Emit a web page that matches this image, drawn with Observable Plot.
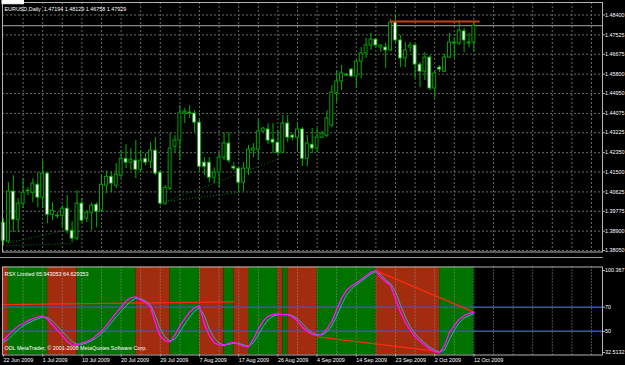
<!DOCTYPE html>
<html><head><meta charset="utf-8">
<script src="https://cdn.jsdelivr.net/npm/d3@7"></script>
<script src="https://cdn.jsdelivr.net/npm/@observablehq/plot@0.6"></script>
<style>
html,body{margin:0;padding:0;background:#000;}
#wrap{position:relative;width:625px;height:365px;background:#000;overflow:hidden;}
#wrap svg{position:absolute;left:0;}
.sep{position:absolute;left:0;width:603px;height:1px;background:#9a9a9a;}
</style></head><body><div id="wrap"></div>
<script>
// ---------- DATA ----------
const symbolTitle = "EURUSD,Daily\u00a0\u00a01.47194 1.48129 1.46758 1.47929";
const indicatorTitle = "RSX Limited 65.943053 64.629353";
const copyright = "ODL MetaTrader, \u00a9 2001-2008 MetaQuotes Software Corp.";

const open = [
1.3927,1.3844,1.4064,1.3940,1.4011,1.4066,1.4059,1.4094,1.4037,1.4143,
1.3962,1.3958,1.3958,1.3989,1.3892,1.3857,1.4011,1.3945,1.3971,1.4006,
1.3980,1.4090,1.4129,1.4090,1.4134,1.4208,1.4191,1.4200,1.4160,1.4208,
1.4195,1.4244,1.4147,1.4011,1.4077,1.4261,1.4288,1.4407,1.4411,1.4407,
1.4367,1.4191,1.4191,1.4125,1.4147,1.4213,1.4275,1.4173,1.4165,1.4103,
1.4165,1.4244,1.4248,1.4328,1.4337,1.4292,1.4279,1.4235,1.4363,1.4310,
1.4301,1.4337,1.4208,1.4270,1.4253,1.4301,1.4310,1.4354,1.4499,1.4548,
1.4578,1.4600,1.4570,1.4635,1.4671,1.4706,1.4732,1.4697,1.4697,1.4684,
1.4807,1.4728,1.4649,1.4697,1.4706,1.4622,1.4591,1.4653,1.4517,1.4609,
1.4591,1.4653,1.4719,1.4715,1.4768,1.4719,1.47194];
const high = [
1.3945,1.4103,1.4134,1.4033,1.4121,1.4081,1.4121,1.4147,1.4200,1.4147,
1.4015,1.3971,1.4002,1.4046,1.3931,1.4068,1.4033,1.3980,1.4015,1.4015,
1.4138,1.4156,1.4151,1.4187,1.4244,1.4270,1.4253,1.4288,1.4244,1.4231,
1.4279,1.4301,1.4156,1.4090,1.4319,1.4310,1.4442,1.4429,1.4442,1.4420,
1.4385,1.4213,1.4213,1.4169,1.4231,1.4323,1.4323,1.4191,1.4169,1.4191,
1.4266,1.4275,1.4376,1.4345,1.4363,1.4363,1.4332,1.4398,1.4398,1.4314,
1.4367,1.4345,1.4310,1.4341,1.4341,1.4328,1.4420,1.4530,1.4596,1.4618,
1.4583,1.4605,1.4640,1.4697,1.4737,1.4759,1.4737,1.4710,1.4715,1.4820,
1.4843,1.4750,1.4719,1.4719,1.4710,1.4631,1.4675,1.4662,1.4596,1.4618,
1.4666,1.4759,1.4741,1.4816,1.4781,1.4759,1.48129];
const low = [
1.3826,1.3835,1.3883,1.3883,1.3989,1.4046,1.4015,1.3993,1.3989,1.3923,
1.3936,1.3945,1.3905,1.3879,1.3839,1.3848,1.3923,1.3927,1.3892,1.3905,
1.3971,1.4055,1.4059,1.4077,1.4121,1.4165,1.4156,1.4121,1.4147,1.4178,
1.4165,1.4134,1.4002,1.4002,1.4068,1.4235,1.4200,1.4363,1.4385,1.4323,
1.4147,1.4134,1.4103,1.4099,1.4081,1.4200,1.4187,1.4156,1.4059,1.4064,
1.4134,1.4213,1.4200,1.4323,1.4270,1.4231,1.4222,1.4231,1.4279,1.4288,
1.4244,1.4173,1.4173,1.4231,1.4235,1.4297,1.4301,1.4345,1.4455,1.4508,
1.4570,1.4565,1.4517,1.4561,1.4649,1.4684,1.4697,1.4675,1.4605,1.4679,
1.4719,1.4609,1.4609,1.4675,1.4561,1.4521,1.4552,1.4508,1.4473,1.4587,
1.4587,1.4649,1.4649,1.4706,1.4675,1.4697,1.46758];
const close = [
1.3848,1.4064,1.3940,1.4011,1.4059,1.4068,1.4099,1.4037,1.4143,1.3962,
1.3980,1.3957,1.3989,1.3892,1.3857,1.4011,1.3936,1.3971,1.4002,1.3976,
1.4094,1.4129,1.4099,1.4138,1.4208,1.4191,1.4204,1.4160,1.4200,1.4191,
1.4244,1.4143,1.4011,1.4081,1.4253,1.4288,1.4407,1.4415,1.4407,1.4367,
1.4173,1.4173,1.4125,1.4147,1.4213,1.4275,1.4200,1.4165,1.4103,1.4165,
1.4248,1.4253,1.4328,1.4341,1.4288,1.4279,1.4235,1.4363,1.4301,1.4301,
1.4337,1.4208,1.4275,1.4253,1.4301,1.4319,1.4385,1.4499,1.4548,1.4583,
1.4574,1.4570,1.4635,1.4671,1.4706,1.4732,1.4706,1.4706,1.4684,1.4807,
1.4728,1.4649,1.4684,1.4706,1.4622,1.4591,1.4653,1.4517,1.4583,1.4600,
1.4653,1.4719,1.4715,1.4772,1.4728,1.4715,1.47929];

const rsx = [
42.4,47.0,51.0,54.5,56.5,58.8,60.5,62.0,62.8,60.0,
55.5,51.0,46.5,41.5,38.8,38.5,40.2,41.5,43.5,47.0,
50.0,55.0,60.0,65.5,70.0,75.0,77.8,78.5,76.0,74.0,
70.0,57.0,46.0,42.3,41.3,47.0,54.5,60.5,66.0,69.5,
71.0,56.0,46.5,40.5,38.8,38.3,40.2,40.8,39.5,37.8,
37.2,43.5,52.0,58.5,62.5,64.0,64.5,63.8,64.0,62.0,
58.5,53.5,50.0,47.5,46.5,48.0,52.0,58.0,68.0,77.5,
84.0,87.5,90.0,93.0,96.0,99.0,100.3,94.5,91.0,88.0,
77.0,66.0,57.5,51.0,45.5,42.0,38.5,35.5,33.2,32.5,
38.0,49.0,55.0,60.0,63.0,64.8,65.94];
const signal = [
41.0,43.5,47.5,51.5,54.5,56.8,58.8,60.5,61.8,61.5,
58.5,54.5,50.0,45.5,41.5,39.5,39.2,40.5,42.2,44.8,
48.0,52.0,57.0,62.0,66.5,71.0,75.0,77.3,77.0,75.0,
72.0,63.0,52.0,45.0,42.2,43.5,49.5,56.0,62.0,66.8,
69.5,63.0,52.0,44.5,40.2,38.8,39.3,40.2,40.0,38.8,
37.8,40.5,47.0,54.0,59.5,62.5,63.8,64.0,63.8,63.0,
60.5,56.5,52.0,49.0,47.2,47.0,49.5,54.5,62.5,72.0,
80.0,85.0,88.5,91.5,94.5,97.5,99.5,97.0,92.5,89.5,
83.0,72.0,62.0,54.0,48.0,44.0,40.5,37.0,34.5,33.0,
34.5,43.0,51.0,57.0,61.0,63.0,64.63];

// slope bands of the indicator (bar index from/to, trend)
const bandFrom  = [-0.2, 1, 9, 15, 27, 34, 40, 45, 47, 50, 56, 57, 58, 64, 76, 89];
const bandTo    = [1, 9, 15, 27, 34, 40, 45, 47, 50, 56, 57, 58, 64, 76, 89, 96];
const bandTrend = ["down","up","down","up","down","up","down","up","down","up","down","up","down","up","down","up"];

// divergence lines
const priceResistBars   = [79, 97];
const priceResistValues = [1.4811, 1.4811];
const priceDivFromBar = [0, 1.4, 32, 33];
const priceDivFromVal = [1.3826, 1.3840, 1.4011, 1.4020];
const priceDivToBar   = [14, 12.2, 56.5, 48];
const priceDivToVal   = [1.3835, 1.3892, 1.4211, 1.4060];
const rsxDivFromBar = [-0.2, 76, 64];
const rsxDivFromVal = [72.2, 100.3, 45.5];
const rsxDivToBar   = [47, 96, 88.5];
const rsxDivToVal   = [74.4, 65.94, 33.5];

// axes
const priceTicks = [1.48400,1.47525,1.46675,1.45800,1.44950,1.44075,1.43225,1.42350,1.41500,1.40625,1.39775,1.38900,1.38050];
const rsxTicks = [100.367, 70, 50, 32.5132];
const rsxTickLabels = ["100.367", "70", "50", "32.5132"];
const rsxLevels = [70, 50];
const dateBars = [0,8,16,24,32,40,48,56,64,72,80,88,96];
const dateLabels = ["22 Jun 2009","1 Jul 2009","10 Jul 2009","20 Jul 2009","29 Jul 2009","7 Aug 2009","17 Aug 2009","26 Aug 2009","4 Sep 2009","14 Sep 2009","23 Sep 2009","2 Oct 2009","12 Oct 2009"];
const gridBars = d3.range(0, 124, 4);

// ---------- BUILD ----------
const bars = open.map((o, i) => ({i, open: o, high: high[i], low: low[i], close: close[i]}));
const dojis = bars.filter(d => Math.abs(d.close - d.open) < 0.00015);
const bands = bandFrom.map((f, k) => ({from: f, to: bandTo[k], trend: bandTrend[k]}));
const resist = priceResistBars.map((b, k) => ({bar: b, v: priceResistValues[k]}));
const pDiv = priceDivFromBar.map((b, k) => ({b1: b, v1: priceDivFromVal[k], b2: priceDivToBar[k], v2: priceDivToVal[k]}));
const rDiv = rsxDivFromBar.map((b, k) => ({b1: b, v1: rsxDivFromVal[k], b2: rsxDivToBar[k], v2: rsxDivToVal[k]}));
const ind = rsx.map((v, i) => ({i, rsx: v, signal: signal[i]}));

const FONT = "'Liberation Sans', Arial, sans-serif";
const FS = 5.4;
const GREEN = "#00b000";
const GRID = "#5e6e5e";
const xScale = {domain: [0, 96], range: [3, 473.4], axis: null};

const mainPlot = Plot.plot({
  width: 625, height: 258,
  marginLeft: 2, marginRight: 23, marginTop: 2, marginBottom: 6.5,
  style: {background: "transparent", color: "#ffffff", fontFamily: FONT, fontSize: FS + "px", overflow: "visible"},
  x: xScale,
  y: {domain: [1.38050, 1.48400], range: [250, 14.5], axis: null},
  marks: [
    Plot.ruleY(priceTicks, {stroke: GRID, strokeDasharray: "2,2"}),
    Plot.ruleX(gridBars.filter(b => b > 0), {stroke: GRID, strokeDasharray: "2,2"}),
    Plot.ruleY([close[close.length - 1]], {stroke: "#a8a8a8"}),
    Plot.link(pDiv, {x1: "b1", y1: "v1", x2: "b2", y2: "v2", stroke: "#127a12", strokeDasharray: "1,2"}),
    Plot.ruleX(bars, {x: "i", y1: "low", y2: "high", stroke: GREEN}),
    Plot.rect(bars, {x1: d => d.i - 0.3, x2: d => d.i + 0.3, y1: "open", y2: "close",
      fill: d => d.close >= d.open ? "#000000" : "#ffffff", stroke: GREEN, strokeWidth: 0.9}),
    Plot.ruleY(dojis, {x1: d => d.i - 0.35, x2: d => d.i + 0.35, y: "close", stroke: GREEN}),
    Plot.line(resist, {x: "bar", y: "v", stroke: "#c83c14", strokeWidth: 2}),
    Plot.frame({stroke: "#b4b4b4"}),
    Plot.axisY({ticks: priceTicks, anchor: "right", tickSize: 2, tickPadding: 0.5,
      tickFormat: d => d.toFixed(5), fontSize: FS, label: null, stroke: "#b4b4b4", fill: "#ffffff"}),
    Plot.text([close[close.length - 1]], {y: d => d, text: d => d.toFixed(5), frameAnchor: "right",
      dx: 2.5, textAnchor: "start", fill: "#000000", fontSize: FS}),
    Plot.text([symbolTitle], {frameAnchor: "top-left", dx: 2, dy: 5, textAnchor: "start", fill: "#ffffff", fontSize: FS})
  ]
});

const indPlot = Plot.plot({
  width: 625, height: 107,
  marginLeft: 2, marginRight: 23, marginTop: 8.5, marginBottom: 10.5,
  style: {background: "transparent", color: "#ffffff", fontFamily: FONT, fontSize: FS + "px", overflow: "visible"},
  x: xScale,
  y: {domain: [32.5132, 100.367], range: [94, 12], axis: null},
  marks: [
    Plot.rect(bands, {x1: "from", x2: "to", fill: d => d.trend === "up" ? "#007200" : "#a22c0e"}),
    Plot.ruleX(gridBars.filter(b => b > 0), {stroke: "#8c968c", strokeDasharray: "1,2"}),
    Plot.ruleY(rsxLevels, {stroke: "#3c50cc", strokeWidth: 1.5}),
    Plot.link(rDiv, {x1: "b1", y1: "v1", x2: "b2", y2: "v2", stroke: "#ff2a10", strokeWidth: 1.2}),
    Plot.line(ind, {x: "i", y: "signal", stroke: "#2cb4b4", strokeWidth: 1}),
    Plot.line(ind, {x: "i", y: "rsx", stroke: "#ff10ff", strokeWidth: 1.4}),
    Plot.frame({stroke: "#b4b4b4"}),
    Plot.axisY({ticks: rsxTicks, anchor: "right", tickSize: 2, tickPadding: 0.5,
      tickFormat: d => rsxTickLabels[rsxTicks.indexOf(d)], fontSize: FS, label: null, stroke: "#b4b4b4", fill: "#ffffff"}),
    Plot.axisX({ticks: dateBars, anchor: "bottom", tickSize: 2, tickPadding: 1.5, textAnchor: "start",
      tickFormat: d => dateLabels[dateBars.indexOf(d)], fontSize: FS, label: null, stroke: "#b4b4b4", fill: "#ffffff"}),
    Plot.text([indicatorTitle], {frameAnchor: "top-left", dx: 2, dy: 5.5, textAnchor: "start", fill: "#ffffff", fontSize: FS}),
    Plot.text([copyright], {frameAnchor: "bottom-left", dx: 2, dy: -5.5, textAnchor: "start", fill: "#ffffff", fontSize: FS})
  ]
});

const wrap = document.getElementById("wrap");
mainPlot.style.top = "0px";
indPlot.style.top = "258px";
wrap.appendChild(mainPlot);
wrap.appendChild(indPlot);
const sep = document.createElement("div");
sep.className = "sep"; sep.style.top = "257px";
wrap.appendChild(sep);

// highlight box behind current price label
const lastTxt = close[close.length - 1].toFixed(5);
d3.select(mainPlot).selectAll("text").filter(function () { return this.textContent === lastTxt; })
  .each(function () {
    const bb = this.getBBox();
    d3.select(this.parentNode).insert("rect", () => this)
      .attr("x", bb.x - 1).attr("y", bb.y - 0.5)
      .attr("width", bb.width + 2).attr("height", bb.height + 1)
      .attr("fill", "#ffffff").attr("stroke", "#ffffff");
  });
</script>
</body></html>
